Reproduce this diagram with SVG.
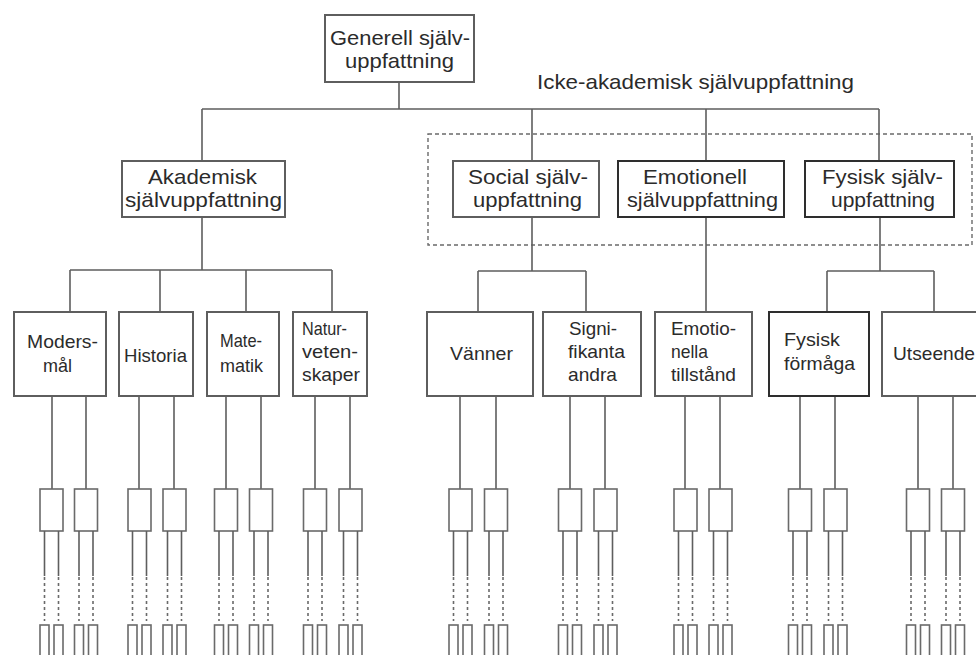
<svg xmlns="http://www.w3.org/2000/svg" xmlns:xlink="http://www.w3.org/1999/xlink" width="976" height="655" viewBox="0 0 976 655">
  <style>
    .box { fill: #ffffff; stroke: #5e5e5e; stroke-width: 2; }
    .box.dark { stroke: #2e2e2e; }
    .ln { fill: none; stroke: #5e5e5e; stroke-width: 1.6; }
    .dash { fill: none; stroke: #6a6a6a; stroke-width: 1.6; stroke-dasharray: 3 3; }
    .frame { fill: none; stroke: #6a6a6a; stroke-width: 1.4; stroke-dasharray: 4 3; }
    .sm { fill: #ffffff; stroke: #6a6a6a; stroke-width: 1.6; }
    text { font-family: "Liberation Sans", Arial, sans-serif; fill: #2b2b2b; }
    .t2 { font-size: 21px; }
    .t3 { font-size: 19px; }
  </style>
  <defs>
    <!-- one facet: a small box, its two branches (solid then dashed) and two tiny end boxes -->
    <g id="facet">
      <rect class="sm" x="-11.5" y="0" width="23" height="42"/>
      <path class="ln" d="M-7 42V87M7 42V87"/>
      <path class="dash" d="M-7 88V132M7 88V132"/>
      <rect class="sm" x="-11.5" y="136" width="9" height="40"/>
      <rect class="sm" x="2.5" y="136" width="9" height="40"/>
    </g>
  </defs>
  <rect width="976" height="655" fill="#ffffff"/>

  <!-- dashed frame around the non-academic branch -->
  <rect class="frame" x="428" y="134" width="544" height="111"/>
  <text class="t2" x="537" y="89" textLength="317" lengthAdjust="spacingAndGlyphs">Icke-akademisk självuppfattning</text>

  <g id="connectors">
    <path class="ln" d="M399 82V109M202 109H879M202 109V161M532 109V161M706 109V161M879 109V161"/>
    <path class="ln" d="M202 217V270M70 270H332M70 270V312M160 270V312M246 270V312M332 270V312"/>
    <path class="ln" d="M532 217V271M478 271H586M478 271V312M586 271V312"/>
    <path class="ln" d="M706 217V312"/>
    <path class="ln" d="M880 217V271M827 271H934M827 271V312M934 271V312"/>
    <!-- stems from level-3 boxes to facets -->
    <path class="ln" d="M52 396V489M86 396V489M139 396V489M174 396V489M226 396V489M261 396V489M315 396V489M350 396V489"/>
    <path class="ln" d="M460 396V489M496 396V489M570 396V489M605 396V489M685 396V489M720 396V489M800 396V489M835 396V489M918 396V489M953 396V489"/>
  </g>

  <g id="generell">
    <rect class="box" x="325" y="15" width="149" height="67"/>
    <text class="t2" x="330" y="45" textLength="140" lengthAdjust="spacingAndGlyphs">Generell själv-</text>
    <text class="t2" x="345" y="68" textLength="109" lengthAdjust="spacingAndGlyphs">uppfattning</text>
  </g>

  <g id="akademisk">
    <rect class="box" x="122" y="161" width="163" height="56"/>
    <text class="t2" x="148" y="184" textLength="109" lengthAdjust="spacingAndGlyphs">Akademisk</text>
    <text class="t2" x="125" y="207" textLength="157" lengthAdjust="spacingAndGlyphs">självuppfattning</text>
  </g>
  <g id="social">
    <rect class="box" x="453" y="161" width="146" height="56"/>
    <text class="t2" x="468" y="184" textLength="120" lengthAdjust="spacingAndGlyphs">Social själv-</text>
    <text class="t2" x="473" y="207" textLength="109" lengthAdjust="spacingAndGlyphs">uppfattning</text>
  </g>
  <g id="emotionell">
    <rect class="box dark" x="618" y="161" width="166" height="56"/>
    <text class="t2" x="643" y="184" textLength="104" lengthAdjust="spacingAndGlyphs">Emotionell</text>
    <text class="t2" x="627" y="207" textLength="151" lengthAdjust="spacingAndGlyphs">självuppfattning</text>
  </g>
  <g id="fysisk">
    <rect class="box dark" x="805" y="161" width="149" height="56"/>
    <text class="t2" x="822" y="184" textLength="121" lengthAdjust="spacingAndGlyphs">Fysisk själv-</text>
    <text class="t2" x="831" y="207" textLength="104" lengthAdjust="spacingAndGlyphs">uppfattning</text>
  </g>

  <g id="modersmal">
    <rect class="box" x="14" y="312" width="92" height="84"/>
    <text class="t3" x="27" y="348" textLength="71" lengthAdjust="spacingAndGlyphs">Moders-</text>
    <text class="t3" x="43" y="372" textLength="29" lengthAdjust="spacingAndGlyphs">mål</text>
  </g>
  <g id="historia">
    <rect class="box" x="119" y="312" width="74" height="84"/>
    <text class="t3" x="124" y="362" textLength="63" lengthAdjust="spacingAndGlyphs">Historia</text>
  </g>
  <g id="matematik">
    <rect class="box" x="207" y="312" width="72" height="84"/>
    <text class="t3" x="220" y="347" textLength="42" lengthAdjust="spacingAndGlyphs">Mate-</text>
    <text class="t3" x="220" y="372" textLength="43" lengthAdjust="spacingAndGlyphs">matik</text>
  </g>
  <g id="naturvetenskaper">
    <rect class="box" x="293" y="312" width="74" height="84"/>
    <text class="t3" x="302" y="335" textLength="45" lengthAdjust="spacingAndGlyphs">Natur-</text>
    <text class="t3" x="302" y="358" textLength="56" lengthAdjust="spacingAndGlyphs">veten-</text>
    <text class="t3" x="302" y="381" textLength="58" lengthAdjust="spacingAndGlyphs">skaper</text>
  </g>
  <g id="vanner">
    <rect class="box" x="427" y="312" width="106" height="84"/>
    <text class="t3" x="450" y="360" textLength="63" lengthAdjust="spacingAndGlyphs">Vänner</text>
  </g>
  <g id="signifikanta">
    <rect class="box" x="543" y="312" width="98" height="84"/>
    <text class="t3" x="569" y="335" textLength="48" lengthAdjust="spacingAndGlyphs">Signi-</text>
    <text class="t3" x="568" y="358" textLength="57" lengthAdjust="spacingAndGlyphs">fikanta</text>
    <text class="t3" x="568" y="381" textLength="49" lengthAdjust="spacingAndGlyphs">andra</text>
  </g>
  <g id="emotionella">
    <rect class="box" x="655" y="312" width="97" height="84"/>
    <text class="t3" x="671" y="335" textLength="65" lengthAdjust="spacingAndGlyphs">Emotio-</text>
    <text class="t3" x="671" y="358" textLength="37" lengthAdjust="spacingAndGlyphs">nella</text>
    <text class="t3" x="671" y="381" textLength="65" lengthAdjust="spacingAndGlyphs">tillstånd</text>
  </g>
  <g id="fysisk-formaga">
    <rect class="box dark" x="769" y="312" width="100" height="84"/>
    <text class="t3" x="784" y="346" textLength="56" lengthAdjust="spacingAndGlyphs">Fysisk</text>
    <text class="t3" x="784" y="370" textLength="71" lengthAdjust="spacingAndGlyphs">förmåga</text>
  </g>
  <g id="utseende">
    <rect class="box" x="882" y="312" width="110" height="84"/>
    <text class="t3" x="893" y="360" textLength="82" lengthAdjust="spacingAndGlyphs">Utseende</text>
  </g>

  <g id="facets">
    <use id="f1" xlink:href="#facet" x="51.5" y="489"/>
    <use id="f2" xlink:href="#facet" x="86" y="489"/>
    <use id="f3" xlink:href="#facet" x="139.5" y="489"/>
    <use id="f4" xlink:href="#facet" x="174.5" y="489"/>
    <use id="f5" xlink:href="#facet" x="226" y="489"/>
    <use id="f6" xlink:href="#facet" x="261" y="489"/>
    <use id="f7" xlink:href="#facet" x="315" y="489"/>
    <use id="f8" xlink:href="#facet" x="350.5" y="489"/>
    <use id="f9" xlink:href="#facet" x="460.5" y="489"/>
    <use id="f10" xlink:href="#facet" x="496" y="489"/>
    <use id="f11" xlink:href="#facet" x="570" y="489"/>
    <use id="f12" xlink:href="#facet" x="605.5" y="489"/>
    <use id="f13" xlink:href="#facet" x="685.5" y="489"/>
    <use id="f14" xlink:href="#facet" x="720.5" y="489"/>
    <use id="f15" xlink:href="#facet" x="800" y="489"/>
    <use id="f16" xlink:href="#facet" x="835.5" y="489"/>
    <use id="f17" xlink:href="#facet" x="918" y="489"/>
    <use id="f18" xlink:href="#facet" x="953" y="489"/>
  </g>
</svg>
